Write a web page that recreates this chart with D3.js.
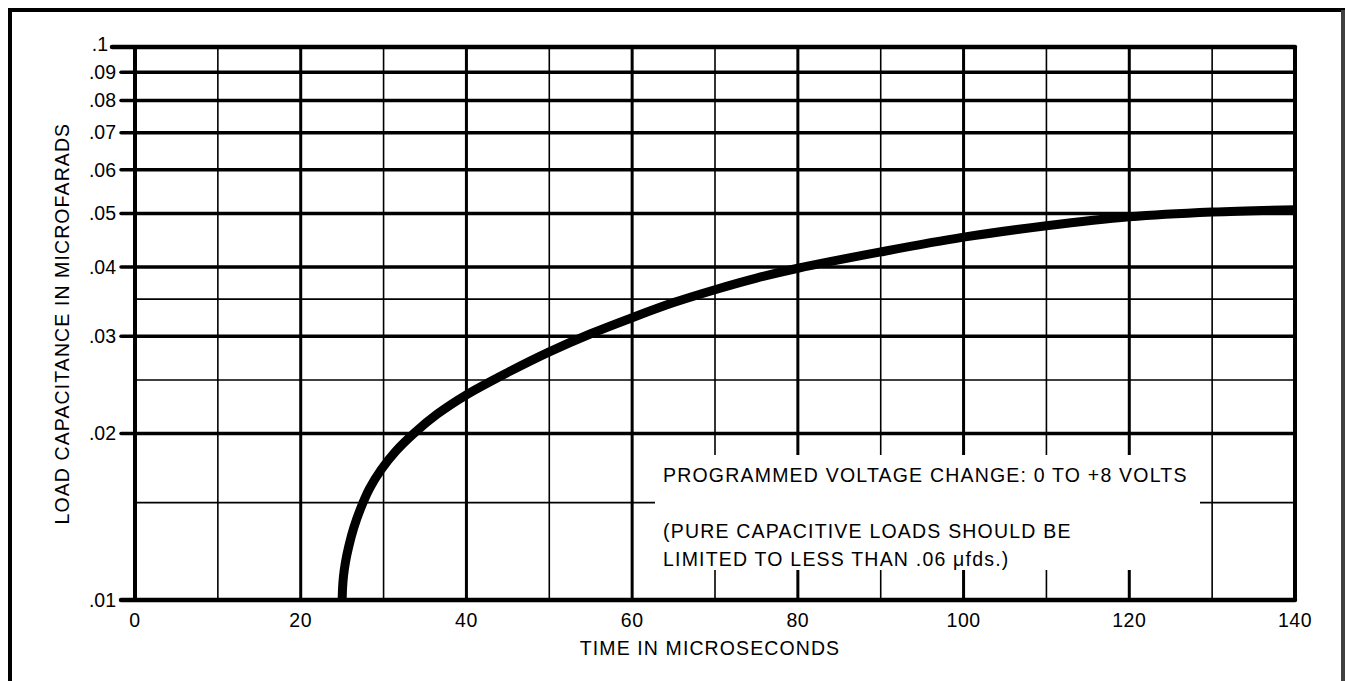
<!DOCTYPE html>
<html>
<head>
<meta charset="utf-8">
<script src="https://cdn.jsdelivr.net/npm/d3@7"></script>
<style>
  body { margin: 0; background: #fff; }
  text { font-family: "Liberation Sans", Arial, sans-serif; fill: #000; font-size: 19.5px; }
</style>
</head>
<body>
<div id="chart"></div>
<script>
// data
var curveT = [25, 25.05, 25.15, 25.4, 25.8, 26.4, 27.2, 28.3, 29.7, 31.5, 33.8, 36.5, 40, 45, 50, 55, 60, 65, 70, 75, 80, 90, 100, 110, 120, 130, 140];
var curveC = [0.0100, 0.0105, 0.0110, 0.0117, 0.0125, 0.0135, 0.0146, 0.0159, 0.0172, 0.0186, 0.0201, 0.0217, 0.0235, 0.0258, 0.0281, 0.0303, 0.0324, 0.0345, 0.0364, 0.0382, 0.0398, 0.0426, 0.0453, 0.0475, 0.0493, 0.0503, 0.0508];

var xMajor = [0, 20, 40, 60, 80, 100, 120, 140];
var xMinor = [10, 30, 50, 70, 90, 110, 130];
var yMajor = [0.01, 0.02, 0.03, 0.04, 0.05, 0.06, 0.07, 0.08, 0.09, 0.1];
var yLabels = [".01", ".02", ".03", ".04", ".05", ".06", ".07", ".08", ".09", ".1"];
var yMinor = [0.015, 0.025, 0.035];

var noteLines = ["PROGRAMMED VOLTAGE CHANGE:  0 TO +8 VOLTS",
                 "(PURE CAPACITIVE LOADS SHOULD BE",
                 "LIMITED TO LESS THAN .06 \u03bcfds.)"];

var W = 1345, H = 681;
var margin = {top: 47, right: 50, bottom: 81, left: 135},
    width = W - margin.left - margin.right,
    height = H - margin.top - margin.bottom;

var svg = d3.select("#chart").append("svg")
    .attr("width", W).attr("height", H);

// outer frame
svg.append("path")
    .attr("d", "M10," + H + "V10H1343V" + H)
    .attr("fill", "none").attr("stroke", "#000").attr("stroke-width", 4);
svg.append("line").attr("x1", 1343).attr("x2", 1343).attr("y1", 10).attr("y2", H)
    .attr("stroke", "#fff").attr("stroke-width", 2.5);
svg.append("line").attr("x1", 1343).attr("x2", 1343).attr("y1", 10).attr("y2", H)
    .attr("stroke", "#000").attr("stroke-width", 1.5);

var g = svg.append("g")
    .attr("transform", "translate(" + margin.left + "," + margin.top + ")");

var x = d3.scaleLinear().domain([0, 140]).range([0, width]);
var y = d3.scaleLog().domain([0.01, 0.1]).range([height, 0]);

// minor grid
g.selectAll(".vminor").data(xMinor).enter().append("line")
    .attr("x1", d => x(d)).attr("x2", d => x(d))
    .attr("y1", 0).attr("y2", height)
    .attr("stroke", "#000").attr("stroke-width", 1.6);
g.selectAll(".hminor").data(yMinor).enter().append("line")
    .attr("x1", 0).attr("x2", width)
    .attr("y1", d => y(d)).attr("y2", d => y(d))
    .attr("stroke", "#000").attr("stroke-width", 1.6);

// major grid
g.selectAll(".vmajor").data(xMajor).enter().append("line")
    .attr("x1", d => x(d)).attr("x2", d => x(d))
    .attr("y1", 0).attr("y2", height)
    .attr("stroke", "#000").attr("stroke-width", d => (d === 0 || d === 140) ? 4 : 3);
g.selectAll(".hmajor").data(yMajor).enter().append("line")
    .attr("x1", d => d === 0.1 ? -23 : -14).attr("x2", width)
    .attr("y1", d => y(d)).attr("y2", d => y(d))
    .attr("stroke", "#000").attr("stroke-width", d => (d === 0.01 || d === 0.1) ? 4.5 : 3.5)
    .attr("stroke-linecap", "round");

// y tick labels
g.selectAll(".ylab").data(yMajor).enter().append("text")
    .attr("x", d => d === 0.1 ? -27 : -19)
    .attr("y", d => y(d) - (d === 0.1 ? 3 : 0))
    .attr("dy", "0.35em")
    .attr("text-anchor", "end")
    .text((d, i) => yLabels[i]);

// x tick labels
g.selectAll(".xlab").data(xMajor).enter().append("text")
    .attr("x", d => x(d)).attr("y", height + 27)
    .attr("text-anchor", "middle")
    .style("letter-spacing", "0.5px")
    .text(d => d);

// axis titles
g.append("text")
    .attr("x", x(70) - 5).attr("y", height + 55)
    .attr("text-anchor", "middle")
    .style("letter-spacing", "1.1px")
    .text("TIME IN MICROSECONDS");
g.append("text")
    .attr("transform", "translate(" + (-66) + "," + (y(0.0316)) + ") rotate(-90)")
    .attr("text-anchor", "middle")
    .style("letter-spacing", "1.1px")
    .text("LOAD CAPACITANCE IN MICROFARADS");

// curve
var pts = curveT.map((t, i) => [t, curveC[i]]);
g.append("path")
    .datum(pts)
    .attr("fill", "none").attr("stroke", "#000").attr("stroke-width", 9)
    .attr("d", d3.line().x(d => x(d[0])).y(d => y(d[1])).curve(d3.curveCatmullRom.alpha(0.5)));

// annotation box (white mask over grid)
g.append("rect")
    .attr("x", 520).attr("y", 408)
    .attr("width", 545).attr("height", 115)
    .attr("fill", "#fff");
g.selectAll(".note").data(noteLines).enter().append("text")
    .attr("x", 528)
    .attr("y", (d, i) => [435, 491, 519][i])
    .style("letter-spacing", "1.2px")
    .text(d => d);
</script>
</body>
</html>
